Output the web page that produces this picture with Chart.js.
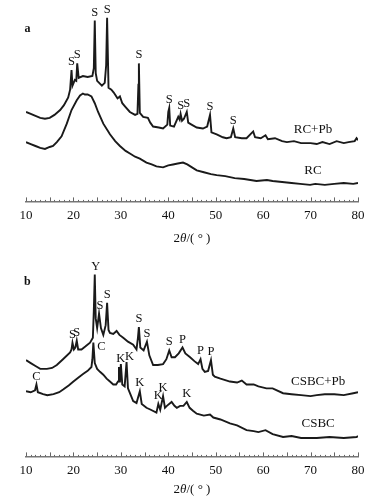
<!DOCTYPE html>
<html>
<head>
<meta charset="utf-8">
<script src="https://cdn.jsdelivr.net/npm/chart.js@4.4.1/dist/chart.umd.min.js"></script>
<style>
  body { margin: 0; background: #fff; width: 375px; height: 499px; position: relative; overflow: hidden; font-family: "Liberation Serif", serif; }
  .pane { position: absolute; left: 0; width: 375px; }
  #paneA { top: 0; height: 250px; }
  #paneB { top: 250px; height: 249px; }
  .xtitle { position: absolute; left: 192px; transform: translateX(-50%); font-size: 13px; color: #111; white-space: nowrap; }
</style>
</head>
<body>
<div class="pane" id="paneA"><canvas id="chartA" width="375" height="250"></canvas></div>
<div class="pane" id="paneB"><canvas id="chartB" width="375" height="249"></canvas></div>
<div class="xtitle" style="top:230px">2<i>θ</i>/( ° )</div>
<div class="xtitle" style="top:481px">2<i>θ</i>/( ° )</div>
<script>
// Panel a: RC+Pb (upper curve)
const thetaRCPb = [10, 11, 12, 13, 14, 15, 16, 17.2, 18, 18.9, 19.3, 19.6, 19.8, 20.3, 20.6, 20.8, 21.1, 22, 23, 24,
  24.3, 24.5, 24.7, 25, 26, 26.6, 26.9, 27.1, 27.4, 28, 28.5, 29.3, 29.8, 30.3, 31, 31.9, 33, 33.5, 33.7, 33.8,
  34.0, 34.7, 35.7, 36.2, 36.8, 38, 38.9, 39.8, 40.0, 40.2, 40.4, 41.2, 42.1, 42.4, 42.6, 42.9, 43.3, 43.9, 44.2, 44.9,
  46, 47.3, 48.2, 48.6, 48.8, 49.1, 50.2, 51.5, 52.3, 53.2, 53.7, 54.1, 55.5, 56.5, 57.9, 58.3, 59.5, 60.5, 61, 62.5,
  64, 65, 66.5, 68, 70, 71.3, 72.5, 74, 75.5, 77, 78, 79.3, 79.7, 80];
const intRCPb = [92, 90, 88, 86, 85, 86, 89, 94, 99, 107, 115, 135, 119, 125, 124, 142, 127, 129, 128, 129,
  137, 186, 132, 124, 119, 122, 140, 189, 117, 115, 112, 106, 108, 101, 97, 92, 89, 90, 120, 142,
  91, 87, 86, 81, 77, 76, 75, 79, 92, 96, 78, 77, 87, 84, 90, 83, 85, 92, 81, 79,
  76, 75, 77, 85, 89, 71, 69, 66, 65, 66, 75, 66, 65, 65, 72, 66, 65, 68, 64, 65,
  62, 61, 62, 60, 60, 59, 61, 59, 62, 60, 61, 62, 65, 63];

// Panel a: RC (lower curve)
const thetaRC = [10, 11, 12, 13, 14, 15, 15.7, 16.5, 17.5, 18.6, 19.6, 20.7, 21.4, 22, 22.4, 23, 23.8, 24.5, 25.2, 26.3,
  27.7, 28.8, 29.8, 31, 32, 33, 34, 35.4, 36.5, 37.5, 38.9, 40, 41, 42, 43.1, 44, 45, 46, 47.5, 49,
  50.2, 52, 54, 56, 58.6, 60.8, 62, 64, 66, 67.8, 69.9, 71, 73, 75, 77, 79, 80];
const intRC = [61, 59, 57, 55, 54, 56, 57, 61, 67, 80, 94, 104, 109, 111, 110, 110, 108, 101, 92, 80,
  69, 62, 57, 52, 49, 46, 44, 40, 38, 36, 35, 37, 38, 39, 40, 38, 35, 32, 30, 28,
  27, 26, 24, 23, 21, 22, 21, 20, 19, 18, 17, 18, 17, 18, 19, 18, 19];

// Panel b: CSBC+Pb (upper curve)
const thetaCSBCPb = [10, 11, 12, 13, 14.4, 15.5, 16.5, 17.8, 19.3, 19.6, 19.8, 20.1, 20.4, 20.7, 21.0, 21.7, 22.5, 23.5, 24.1, 24.3,
  24.5, 24.7, 25.0, 25.4, 25.8, 26.3, 26.8, 27.1, 27.4, 27.7, 28.4, 29.1, 29.7, 30.5, 31.5, 32.6, 33.3, 33.6, 33.8, 34.1,
  34.8, 35.5, 36, 36.8, 37.8, 38.9, 39.6, 40.2, 40.7, 41.4, 42.2, 43, 43.6, 44.6, 45.5, 46.3, 46.8, 47.2, 47.7, 48.4,
  49, 49.4, 49.8, 51, 53, 54.5, 55.5, 56.5, 58, 59, 60.7, 62, 64.2, 66, 68, 70, 71.3, 73, 75, 77, 79, 80];
const intCSBCPb = [99, 96, 93, 90, 90, 91, 94, 100, 107, 110, 117, 110, 112, 119, 110, 110, 113, 117, 122, 150,
  187, 142, 132, 147, 132, 125, 135, 158, 130, 127, 126, 129, 125, 122, 118, 115, 110, 122, 133, 112,
  109, 118, 104, 94, 94, 95, 100, 109, 102, 102, 106, 112, 106, 102, 98, 95, 100, 90, 87, 88,
  99, 84, 82, 80, 77, 76, 78, 74, 74, 72, 70, 70, 65, 64, 63, 62, 63, 64, 64, 63, 65, 66];

// Panel b: CSBC (lower curve)
const thetaCSBC = [10, 11, 11.9, 12.2, 12.5, 13.6, 14.5, 15.8, 17, 17.9, 19, 20, 21, 22.1, 23, 23.8, 24.0, 24.2, 24.5, 25,
  25.6, 26.3, 27, 27.7, 28.4, 29, 29.4, 29.6, 29.8, 30.0, 30.3, 30.8, 31.2, 31.5, 32, 32.6, 33.3, 34, 34.4, 35.4,
  36.3, 37.5, 37.9, 38.3, 38.9, 39.3, 39.7, 40.7, 41.3, 41.8, 42.5, 43.2, 43.9, 44.5, 45.2, 46, 47.5, 48.8, 49.5, 51,
  53, 54.5, 56.5, 58, 59, 60.5, 62, 64.2, 66, 68, 71.3, 74, 77, 79.7, 80];
const intCSBC = [67, 66, 68, 74, 66, 64, 63, 64, 66, 69, 73, 77, 81, 85, 88, 92, 100, 117, 96, 90,
  87, 84, 80, 77, 74, 74, 77, 92, 76, 95, 74, 72, 97, 70, 64, 57, 55, 67, 54, 50,
  48, 45, 54, 48, 62, 50, 52, 56, 52, 50, 52, 52, 56, 50, 47, 44, 42, 43, 40, 38,
  34, 32, 27, 26, 25, 27, 23, 20, 21, 19, 19, 20, 19, 20, 21];

// x axis ticks
const xTicks = [10, 20, 30, 40, 50, 60, 70, 80];

// peak labels: [letter, 2theta, series index]
const peaksA = [['S', 19.6, 0], ['S', 20.8, 0], ['S', 24.5, 0], ['S', 27.1, 0], ['S', 33.8, 0],
  ['S', 40.2, 0], ['S', 42.6, 0], ['S', 43.9, 0], ['S', 48.8, 0], ['S', 53.7, 0]];
const peaksB = [['S', 19.8, 0], ['S', 20.7, 0], ['Y', 24.5, 0], ['S', 25.4, 0], ['S', 27.1, 0], ['S', 33.8, 0],
  ['S', 35.5, 0], ['S', 40.2, 0], ['P', 43, 0], ['P', 46.8, 0], ['P', 49, 0],
  ['C', 12.2, 1], ['C', 24.2, 1], ['K', 30.0, 1], ['K', 31.2, 1], ['K', 34, 1],
  ['K', 37.9, 1], ['K', 38.9, 1], ['K', 43.9, 1]];

// curve names: [text, 2theta, intensity]
const namesA = [['RC+Pb', 70.5, 74], ['RC', 70.5, 32], ['a', 10.3, 177]];
const namesB = [['CSBC+Pb', 71.6, 77], ['CSBC', 71.6, 34], ['b', 10.3, 180]];

// small pixel nudges for crowded labels (key: letter@theta)
const nudge = { 'C@24.2': [8, 12], 'K@31.2': [3, 3], 'K@30': [0, 3], 'Y@24.5': [1, 0], 'S@25.4': [1, 0] };

function pts(xs, ys) {
  return xs.map((v, i) => ({ x: v, y: ys[i] }));
}

const labelPlugin = {
  id: 'xrdLabels',
  afterDraw(chart, args, opts) {
    const { ctx, scales: { x, y } } = chart;
    ctx.save();
    // axis tick marks, pointing up
    ctx.strokeStyle = '#666';
    ctx.lineWidth = 1;
    const base = y.getPixelForValue(0);
    for (let v = 10; v <= 80; v++) {
      const px = Math.round(x.getPixelForValue(v)) + 0.5;
      const h = v % 5 === 0 ? 4 : 1.5;
      ctx.beginPath();
      ctx.moveTo(px, base);
      ctx.lineTo(px, base - h);
      ctx.stroke();
    }
    ctx.fillStyle = '#111';
    ctx.textAlign = 'center';
    ctx.textBaseline = 'bottom';
    ctx.font = '12.5px "Liberation Serif"';
    opts.peaks.forEach(([t, th, s]) => {
      let top = -Infinity;
      chart.data.datasets[s].data.forEach(p => {
        if (Math.abs(p.x - th) <= 0.21) top = Math.max(top, p.y);
      });
      const n = nudge[t + '@' + th] || [0, 0];
      ctx.fillText(t, x.getPixelForValue(th) + n[0], y.getPixelForValue(top) - 2 + n[1]);
    });
    ctx.textBaseline = 'middle';
    opts.names.forEach(([t, th, v]) => {
      ctx.font = (t.length === 1 ? 'bold 12px' : '13px') + ' "Liberation Serif"';
      ctx.fillText(t, x.getPixelForValue(th), y.getPixelForValue(v));
    });
    ctx.restore();
  }
};

function makeChart(id, series, peaks, names, padTop, padBottom) {
  return new Chart(document.getElementById(id), {
    type: 'line',
    data: {
      datasets: series.map(s => ({
        data: s,
        borderColor: '#1a1a1a',
        borderWidth: 1.9,
        pointRadius: 0,
        tension: 0,
        fill: false
      }))
    },
    options: {
      responsive: false,
      devicePixelRatio: 1,
      animation: false,
      layout: { padding: { left: 26, right: 17, top: padTop, bottom: padBottom } },
      plugins: {
        legend: { display: false },
        tooltip: { enabled: false },
        xrdLabels: { peaks: peaks, names: names }
      },
      scales: {
        x: {
          type: 'linear',
          min: 10,
          max: 80,
          afterBuildTicks: axis => { axis.ticks = xTicks.map(v => ({ value: v })); },
          ticks: { color: '#111', padding: 6, font: { family: 'Liberation Serif', size: 13 } },
          grid: { display: false, drawTicks: false },
          border: { display: true, color: '#777', width: 1.5 }
        },
        y: { display: false, min: 0, max: 200 }
      }
    },
    plugins: [labelPlugin]
  });
}

makeChart('chartA', [pts(thetaRCPb, intRCPb), pts(thetaRC, intRC)], peaksA, namesA, 7, 21);
makeChart('chartB', [pts(thetaCSBCPb, intCSBCPb), pts(thetaCSBC, intCSBC)], peaksB, namesB, 12, 15);
</script>
</body>
</html>
